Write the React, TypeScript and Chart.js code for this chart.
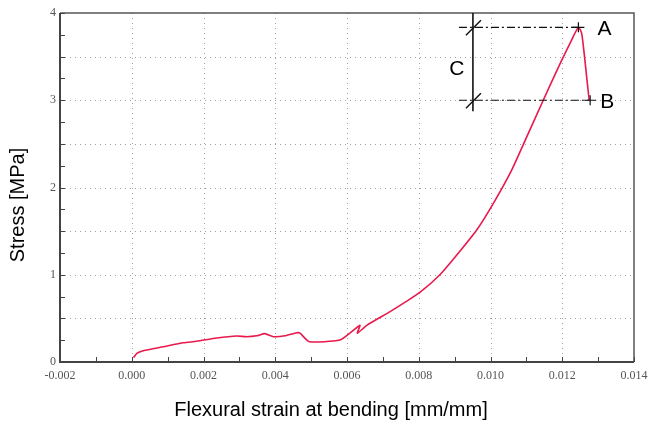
import React, { useEffect, useRef } from "react";
import { Chart, registerables } from "chart.js";

Chart.register(...registerables);

// Flexural strain [mm/mm]
const strain: number[] = [
  0.00005, 0.00014, 0.00032, 0.00088, 0.00144, 0.00181, 0.00237, 0.00293, 0.0032, 0.00348,
  0.00371, 0.00395, 0.00427, 0.0046, 0.00469, 0.00495, 0.0058, 0.00613, 0.00636, 0.00629,
  0.00655, 0.0072, 0.0076, 0.00804, 0.00859, 0.00906, 0.009615, 0.01008, 0.01059, 0.01101,
  0.01147, 0.01194, 0.01226, 0.01245, 0.01254, 0.01261, 0.01268, 0.01275,
];
// Stress [MPa]
const stress: number[] = [
  0.05, 0.1, 0.13, 0.175, 0.22, 0.237, 0.275, 0.298, 0.29, 0.3,
  0.325, 0.29, 0.3, 0.336, 0.33, 0.233, 0.252, 0.347, 0.42, 0.33,
  0.42, 0.577, 0.68, 0.8, 1.0, 1.226, 1.513, 1.819, 2.2, 2.58,
  3.0, 3.42, 3.69, 3.836, 3.77, 3.54, 3.27, 3.0,
];

const xMin = -0.002;
const xMax = 0.014;
const xStep = 0.002;
const xMinorStep = 0.001;
const yMin = 0;
const yMax = 4;
const yStep = 1;
const yGridStep = 0.5;
const yMinorStep = 0.25;

// Annotation values (data units)
const annotLeftX = 0.00912;
const annotVertX = 0.00951;
const peakIndex = 33;
const endIndex = strain.length - 1;
const labelA = "A";
const labelB = "B";
const labelC = "C";
const xTitle = "Flexural strain at bending [mm/mm]";
const yTitle = "Stress [MPa]";

const framePlugin = {
  id: "frame",
  beforeDatasetsDraw(chart: any) {
    const { ctx, chartArea } = chart;
    const xs = chart.scales.x;
    const ys = chart.scales.y;
    ctx.save();
    ctx.strokeStyle = "#a0a0a0";
    ctx.lineWidth = 1;
    ctx.setLineDash([1, 4]);
    for (let i = 1; xMin + i * xStep < xMax - 1e-9; i++) {
      const px = Math.round(xs.getPixelForValue(xMin + i * xStep)) + 0.5;
      ctx.beginPath();
      ctx.moveTo(px, chartArea.top);
      ctx.lineTo(px, chartArea.bottom);
      ctx.stroke();
    }
    for (let i = 1; yMin + i * yGridStep < yMax - 1e-9; i++) {
      const py = Math.round(ys.getPixelForValue(yMin + i * yGridStep)) + 0.5;
      ctx.beginPath();
      ctx.moveTo(chartArea.left, py);
      ctx.lineTo(chartArea.right, py);
      ctx.stroke();
    }
    ctx.restore();
  },
  afterDatasetsDraw(chart: any) {
    const { ctx, chartArea } = chart;
    const xs = chart.scales.x;
    const ys = chart.scales.y;
    ctx.save();
    // box
    ctx.setLineDash([]);
    ctx.strokeStyle = "#555";
    ctx.lineWidth = 1.5;
    ctx.beginPath();
    ctx.moveTo(chartArea.left, chartArea.top);
    ctx.lineTo(chartArea.right, chartArea.top);
    ctx.lineTo(chartArea.right, chartArea.bottom);
    ctx.stroke();
    ctx.strokeStyle = "#444";
    ctx.lineWidth = 2;
    ctx.beginPath();
    ctx.moveTo(chartArea.left, chartArea.top);
    ctx.lineTo(chartArea.left, chartArea.bottom);
    ctx.lineTo(chartArea.right, chartArea.bottom);
    ctx.stroke();
    // minor ticks
    ctx.lineWidth = 1;
    ctx.strokeStyle = "#444";
    for (let i = 0; xMin + i * xMinorStep <= xMax + 1e-9; i++) {
      const px = Math.round(xs.getPixelForValue(xMin + i * xMinorStep)) + 0.5;
      ctx.beginPath();
      ctx.moveTo(px, chartArea.bottom);
      ctx.lineTo(px, chartArea.bottom - 5);
      ctx.stroke();
    }
    for (let i = 0; yMin + i * yMinorStep <= yMax + 1e-9; i++) {
      const py = Math.round(ys.getPixelForValue(yMin + i * yMinorStep)) + 0.5;
      ctx.beginPath();
      ctx.moveTo(chartArea.left, py);
      ctx.lineTo(chartArea.left + 5, py);
      ctx.stroke();
    }

    // annotations
    const peakX = xs.getPixelForValue(strain[peakIndex]);
    const peakY = ys.getPixelForValue(stress[peakIndex]);
    const endX = xs.getPixelForValue(strain[endIndex]);
    const endY = ys.getPixelForValue(stress[endIndex]);
    const leftX = xs.getPixelForValue(annotLeftX);
    const vX = xs.getPixelForValue(annotVertX);

    ctx.strokeStyle = "#111";
    ctx.lineWidth = 1.2;
    ctx.setLineDash([8, 3, 2, 3]);
    ctx.beginPath();
    ctx.moveTo(leftX, peakY);
    ctx.lineTo(peakX, peakY);
    ctx.moveTo(leftX, endY);
    ctx.lineTo(endX, endY);
    ctx.stroke();
    ctx.setLineDash([]);

    // vertical C line
    ctx.lineWidth = 1.6;
    ctx.beginPath();
    ctx.moveTo(vX, ys.getPixelForValue(yMax));
    ctx.lineTo(vX, endY + 11);
    ctx.stroke();
    // slashes
    ctx.lineWidth = 1.4;
    for (const yy of [peakY, endY]) {
      ctx.beginPath();
      ctx.moveTo(vX - 7, yy + 8);
      ctx.lineTo(vX + 8, yy - 7);
      ctx.stroke();
    }
    // plus markers
    ctx.lineWidth = 1.2;
    for (const [px, py] of [[peakX, peakY], [endX + 1, endY]]) {
      ctx.beginPath();
      ctx.moveTo(px - 6, py);
      ctx.lineTo(px + 6, py);
      ctx.moveTo(px, py - 5);
      ctx.lineTo(px, py + 5);
      ctx.stroke();
    }
    // labels
    ctx.fillStyle = "#000";
    ctx.font = '21px "Liberation Sans", Arial, sans-serif';
    ctx.textAlign = "center";
    ctx.textBaseline = "middle";
    ctx.fillText(labelA, peakX + 26, peakY + 2);
    ctx.fillText(labelB, endX + 18, endY + 2);
    ctx.fillText(labelC, vX - 16, (peakY + endY) / 2 + 5);

    // axis titles
    ctx.font = '20px "Liberation Sans", Arial, sans-serif';
    ctx.fillText(xTitle, 331, 410);
    ctx.translate(18, 205);
    ctx.rotate(-Math.PI / 2);
    ctx.fillText(yTitle, 0, 0);
    ctx.restore();
  },
};

export default function App() {
  const ref = useRef<HTMLCanvasElement | null>(null);
  useEffect(() => {
    document.body.style.margin = "0";
    const canvas = ref.current;
    if (!canvas) return;
    const points = strain.map((x, i) => ({ x, y: stress[i] }));
    const tickFont = { family: '"Liberation Serif", "Times New Roman", serif', size: 12 };
    const chart = new Chart(canvas, {
      type: "scatter",
      data: {
        datasets: [
          {
            data: points,
            showLine: true,
            borderColor: "#e8194b",
            borderWidth: 1.6,
            pointRadius: 0,
            tension: 0.2,
            fill: false,
          },
        ],
      },
      options: {
        animation: false,
        responsive: true,
        maintainAspectRatio: false,
        layout: { padding: { top: 13, right: 15, left: 0, bottom: 0 } },
        plugins: { legend: { display: false }, tooltip: { enabled: false } },
        scales: {
          x: {
            type: "linear",
            min: xMin,
            max: xMax,
            grid: { display: false, drawTicks: false },
            border: { display: false },
            ticks: {
              stepSize: xStep,
              autoSkip: false,
              maxRotation: 0,
              padding: 7,
              color: "#555",
              font: tickFont,
              callback: (v: any) => Number(v).toFixed(3),
            },
            afterFit: (s: any) => {
              s.height = 63;
              s.paddingLeft = 0;
              s.paddingRight = 0;
            },
          },
          y: {
            type: "linear",
            min: yMin,
            max: yMax,
            grid: { display: false, drawTicks: false },
            border: { display: false },
            ticks: {
              stepSize: yStep,
              padding: 4,
              color: "#555",
              font: tickFont,
              callback: (v: any) => String(v),
            },
            afterFit: (s: any) => {
              s.width = 60;
              s.paddingTop = 0;
              s.paddingBottom = 0;
            },
          },
        },
      },
      plugins: [framePlugin],
    });
    return () => chart.destroy();
  }, []);
  return (
    <div style={{ position: "relative", width: 649, height: 425 }}>
      <canvas ref={ref} />
    </div>
  );
}
